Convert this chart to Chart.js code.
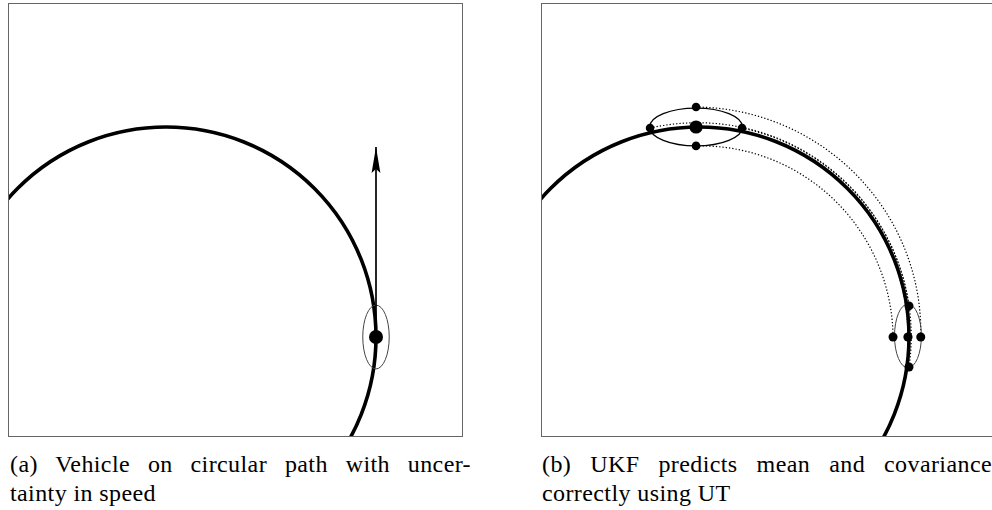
<!DOCTYPE html>
<html><head><meta charset="utf-8">
<script src="https://cdn.jsdelivr.net/npm/chart.js@4/dist/chart.umd.min.js"></script>
<style>
html,body{margin:0;padding:0;background:#fff;width:992px;height:510px;overflow:hidden;position:relative}
.panel{position:absolute;top:3px;width:455px;height:434px}
#pa{left:8px} #pb{left:541px}
.cap{position:absolute;font-family:'Liberation Serif','DejaVu Serif',serif;font-size:24px;line-height:29px;letter-spacing:0.4px;color:#000;white-space:nowrap}
.just{text-align:justify;text-align-last:justify;white-space:normal}
</style></head>
<body>
<div class="panel" id="pa"><canvas id="ca" width="455" height="434"></canvas></div>
<div class="panel" id="pb"><canvas id="cb" width="455" height="434"></canvas></div>
<div class="cap just" style="left:10px;top:450px;width:461px">(a) Vehicle on circular path with uncer-</div>
<div class="cap" style="left:10px;top:479px">tainty in speed</div>
<div class="cap just" style="left:542px;top:450px;width:450px">(b) UKF predicts mean and covariance</div>
<div class="cap" style="left:542px;top:479px">correctly using UT</div>
<script>
// ---- data (units: circle radius = 1, circle centre at origin) ----
const X_RANGE = [-0.7524, 1.4143];
const Y_RANGE = [-0.4762, 1.5905];
const PATH_CIRCLE = [0, 0, 1];               // cx, cy, r
// panel (a)
const vehicleA = [{x: 1.0, y: 0.0}];
const velocityArrow = [{x: 1.0, y: 0.0}, {x: 1.0, y: 0.905}];
const covA = [1.0, 0.0, 0.063, 0.152];       // cx, cy, rx, ry
// panel (b)
const meanStart = [{x: -0.014, y: 1.0}];
const sigmaStart = [ {x: -0.014, y: 1.095}, {x: -0.014, y: 0.910}, {x: -0.233, y: 0.995}, {x: 0.205, y: 0.995} ];
const sigmaEnd   = [ {x: 1.056, y: 0.0},   {x: 0.924, y: 0.0},   {x: 1.0, y: 0.148},   {x: 1.0, y: -0.143} ];
const meanEnd = [{x: 0.995, y: 0.0}];
const covStart = [-0.014, 1.0, 0.221, 0.090];
const covEnd = [0.995, 0.005, 0.064, 0.152];

// choose an installed serif font for the captions, else a sans one
(function(){
  const c = document.createElement('canvas').getContext('2d');
  const s = 'abcdefghijklmnopqrstuvwxyz ABCDEFGHIJKLMNOPQRSTUVWXYZ 0123456789';
  function has(f){
    c.font = '40px monospace'; const w0 = c.measureText(s).width;
    c.font = '40px "' + f + '", monospace'; const w1 = c.measureText(s).width;
    return Math.abs(w1 - w0) > 0.5;
  }
  const serifs = ['Liberation Serif','DejaVu Serif','Noto Serif','Tinos','Times New Roman','FreeSerif','Nimbus Roman','Noto Serif CJK SC','Noto Serif CJK JP'];
  let fam = null;
  for (const f of serifs) { if (has(f)) { fam = f; break; } }
  const caps = document.querySelectorAll('.cap');
  caps.forEach(el => {
    if (fam) { el.style.fontFamily = '"' + fam + '", serif'; }
    else { el.style.fontFamily = '"Liberation Sans", Arial, sans-serif'; el.style.fontSize = '22px'; el.style.letterSpacing = '0.5px'; }
  });
})();

function P(chart, pt){ return [chart.scales.x.getPixelForValue(pt.x), chart.scales.y.getPixelForValue(pt.y)]; }
function ellipse(chart, e, color, w){
  const ctx = chart.ctx, sx = chart.scales.x, sy = chart.scales.y;
  const cx = sx.getPixelForValue(e[0]), cy = sy.getPixelForValue(e[1]);
  const rx = Math.abs(sx.getPixelForValue(e[0]+e[2]) - cx), ry = Math.abs(sy.getPixelForValue(e[1]+e[3]) - cy);
  ctx.save(); ctx.strokeStyle = color; ctx.lineWidth = w;
  ctx.beginPath(); ctx.ellipse(cx, cy, rx, ry, 0, 0, Math.PI*2); ctx.stroke(); ctx.restore();
}
function clipArea(chart){
  const a = chart.chartArea, ctx = chart.ctx;
  ctx.beginPath(); ctx.rect(a.left, a.top, a.right-a.left, a.bottom-a.top); ctx.clip();
}
const circlePlugin = {
  id: 'geom',
  beforeDatasetsDraw(chart, args, opts){
    const ctx = chart.ctx;
    ctx.save(); clipArea(chart);
    ellipse(chart, [PATH_CIRCLE[0], PATH_CIRCLE[1], PATH_CIRCLE[2], PATH_CIRCLE[2]], '#000', 3.6);
    if (opts.panel === 'b') {
      ctx.save(); ctx.strokeStyle = '#000'; ctx.lineWidth = 1.2; ctx.setLineDash([1.3, 2]);
      const starts = sigmaStart.concat(meanStart), ends = sigmaEnd.concat(meanEnd);
      for (let i = 0; i < starts.length; i++) {
        const s = starts[i], e = ends[i];
        const r0 = Math.hypot(s.x, s.y), a0 = Math.atan2(s.y, s.x);
        const r1 = Math.hypot(e.x, e.y), a1 = Math.atan2(e.y, e.x);
        ctx.beginPath();
        for (let k = 0; k <= 80; k++) {
          const t = k / 80, r = r0 + (r1 - r0) * t, a = a0 + (a1 - a0) * t;
          const p = P(chart, {x: r * Math.cos(a), y: r * Math.sin(a)});
          if (k === 0) ctx.moveTo(p[0], p[1]); else ctx.lineTo(p[0], p[1]);
        }
        ctx.stroke();
      }
      ctx.restore();
      ellipse(chart, covStart, '#000', 1.3);
      ellipse(chart, covEnd, '#444', 1.0);
    } else {
      ellipse(chart, covA, '#444', 1.0);
    }
    ctx.restore();
  },
  afterDatasetsDraw(chart, args, opts){
    const ctx = chart.ctx;
    if (opts.panel === 'a') {
      const tip = P(chart, velocityArrow[1]);
      ctx.save(); ctx.fillStyle = '#000';
      ctx.beginPath();
      ctx.moveTo(tip[0], tip[1]);
      ctx.lineTo(tip[0] + 4.4, tip[1] + 26);
      ctx.lineTo(tip[0], tip[1] + 22);
      ctx.lineTo(tip[0] - 4.4, tip[1] + 26);
      ctx.closePath(); ctx.fill(); ctx.restore();
    }
  },
  afterDraw(chart){
    const ctx = chart.ctx, a = chart.chartArea;
    ctx.save(); ctx.strokeStyle = '#666'; ctx.lineWidth = 1;
    ctx.strokeRect(a.left + 0.5, a.top + 0.5, a.right - a.left - 1, a.bottom - a.top - 1);
    ctx.restore();
  }
};
function baseOptions(panel){
  return {
    responsive: false, animation: false, devicePixelRatio: 1,
    layout: {padding: 0, autoPadding: false},
    plugins: {legend: {display: false}, tooltip: {enabled: false}, geom: {panel: panel}},
    scales: {
      x: {type: 'linear', min: X_RANGE[0], max: X_RANGE[1], display: false},
      y: {type: 'linear', min: Y_RANGE[0], max: Y_RANGE[1], display: false}
    }
  };
}
const dot = (data, r) => ({data, pointRadius: r, pointHoverRadius: r, pointBackgroundColor: '#000', pointBorderWidth: 0, showLine: false});
new Chart(document.getElementById('ca'), {
  type: 'scatter',
  data: {datasets: [
    {data: velocityArrow, showLine: true, borderColor: '#000', borderWidth: 1.7, pointRadius: 0},
    dot(vehicleA, 7)
  ]},
  options: baseOptions('a'),
  plugins: [circlePlugin]
});
new Chart(document.getElementById('cb'), {
  type: 'scatter',
  data: {datasets: [
    dot(sigmaStart, 4.3),
    dot(meanStart, 6.6),
    dot(sigmaEnd, 4.5),
    dot(meanEnd, 4.6)
  ]},
  options: baseOptions('b'),
  plugins: [circlePlugin]
});
</script>
</body></html>
